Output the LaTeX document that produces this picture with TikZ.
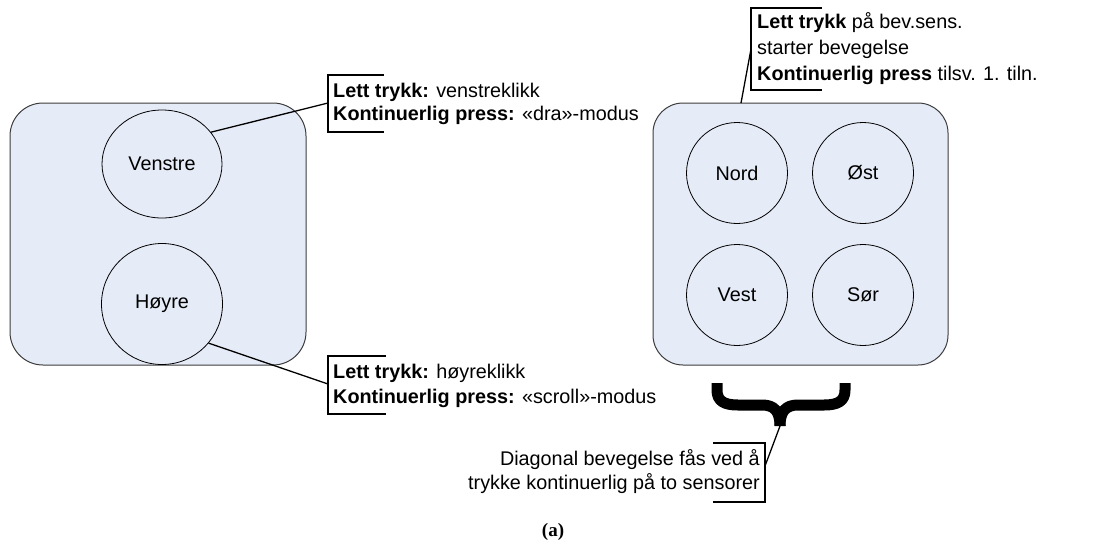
\documentclass[tikz,border=0pt]{standalone}
\usepackage{fontspec}
\setmainfont{Liberation Sans}
\newfontfamily\capfont{Liberation Serif}
\usetikzlibrary{shapes.geometric}
\definecolor{boxfill}{RGB}{230,236,247}
\definecolor{boxedge}{RGB}{60,60,60}
\begin{document}
\begin{tikzpicture}[x=1pt,y=-1pt,
  panel/.style={draw=boxedge, fill=boxfill, line width=1pt, inner sep=0, rectangle},
  sensor/.style={circle, draw=black, line width=0.8pt, inner sep=0, font=\fontsize{19.8}{24}\selectfont},
  lbl/.style={font=\fontsize{19.8}{23}\selectfont, inner sep=0},
  conn/.style={draw=black, line width=1.3pt},
  bracket/.style={draw=black, line width=1.3pt},
  brace/.style={draw=black, line width=11pt, line cap=butt, line join=round}]

\useasboundingbox (0,0) rectangle (1107,549);

% panels
\node[panel, rounded corners=33pt, minimum width=296, minimum height=262] (leftpanel) at (158,234) {};
\node[panel, rounded corners=30pt, minimum width=295, minimum height=262] (rightpanel) at (800.5,234) {};

% left sensors
\node[ellipse, draw=black, line width=0.8pt, inner sep=0, minimum width=120, minimum height=108,
      font=\fontsize{19.8}{24}\selectfont] (venstre) at (162,164) {Venstre};
\node[sensor, minimum size=121] (hoyre) at (162,304) {Høyre};

% right sensors
\node[sensor, minimum size=101] (nord) at (737,173) {Nord};
\node[sensor, minimum size=101] (ost) at (863,173) {Øst};
\node[sensor, minimum size=101] (vest) at (737,295) {Vest};
\node[sensor, minimum size=101] (sor) at (863,295) {Sør};

% callout brackets
\draw[bracket] (384,75) -| (328,132) -- (384,132);
\coordinate (b1) at (328,103);
\draw[bracket] (386,356) -| (328,414) -- (386,414);
\coordinate (b2) at (328,384);
\draw[bracket] (822,8) -| (751,90) -- (822,90);
\coordinate (b3) at (751,49);
\draw[bracket] (713,443) -| (765,502) -- (713,502);
\coordinate (b4) at (765,466);

% callout texts
\node[lbl, anchor=west, align=left] (t1) at (333,104)
  {\textbf{Lett trykk:} venstreklikk\\\textbf{Kontinuerlig press:} «dra»-modus};
\node[lbl, anchor=west, align=left, font=\fontsize{19.8}{25}\selectfont] (t2) at (333,386)
  {\textbf{Lett trykk:} høyreklikk\\\textbf{Kontinuerlig press:} «scroll»-modus};
\node[lbl, anchor=west, align=left, font=\fontsize{19.8}{26}\selectfont] (t3) at (757,49)
  {\textbf{Lett trykk} på bev.sens.\\starter bevegelse\\\textbf{Kontinuerlig press} tilsv. 1. tiln.};
\node[lbl, anchor=east, align=right, font=\fontsize{19.8}{24}\selectfont] (t4) at (760,472)
  {Diagonal bevegelse fås ved å\\trykke kontinuerlig på to sensorer};

% brace
\draw[brace] (717,383) -- (717,390) .. controls (717,401) and (724,405) .. (738,405)
  -- (762,405) .. controls (774,405) and (780,411) .. (780,426);
\draw[brace] (845,383) -- (845,390) .. controls (845,401) and (838,405) .. (824,405)
  -- (798,405) .. controls (786,405) and (780,411) .. (780,426);
\coordinate (bracetip) at (780,426);
\coordinate (rp) at (741,103);

% connectors
\draw[conn] (venstre.33) -- (b1);
\draw[conn] (hoyre.-40) -- (b2);
\draw[conn] (rp) -- (b3);
\draw[conn] (bracetip) -- (b4);

% caption
\node[font=\capfont\bfseries\fontsize{19}{22}\selectfont, inner sep=0] (cap) at (553,532) {(a)};
\end{tikzpicture}
\end{document}
